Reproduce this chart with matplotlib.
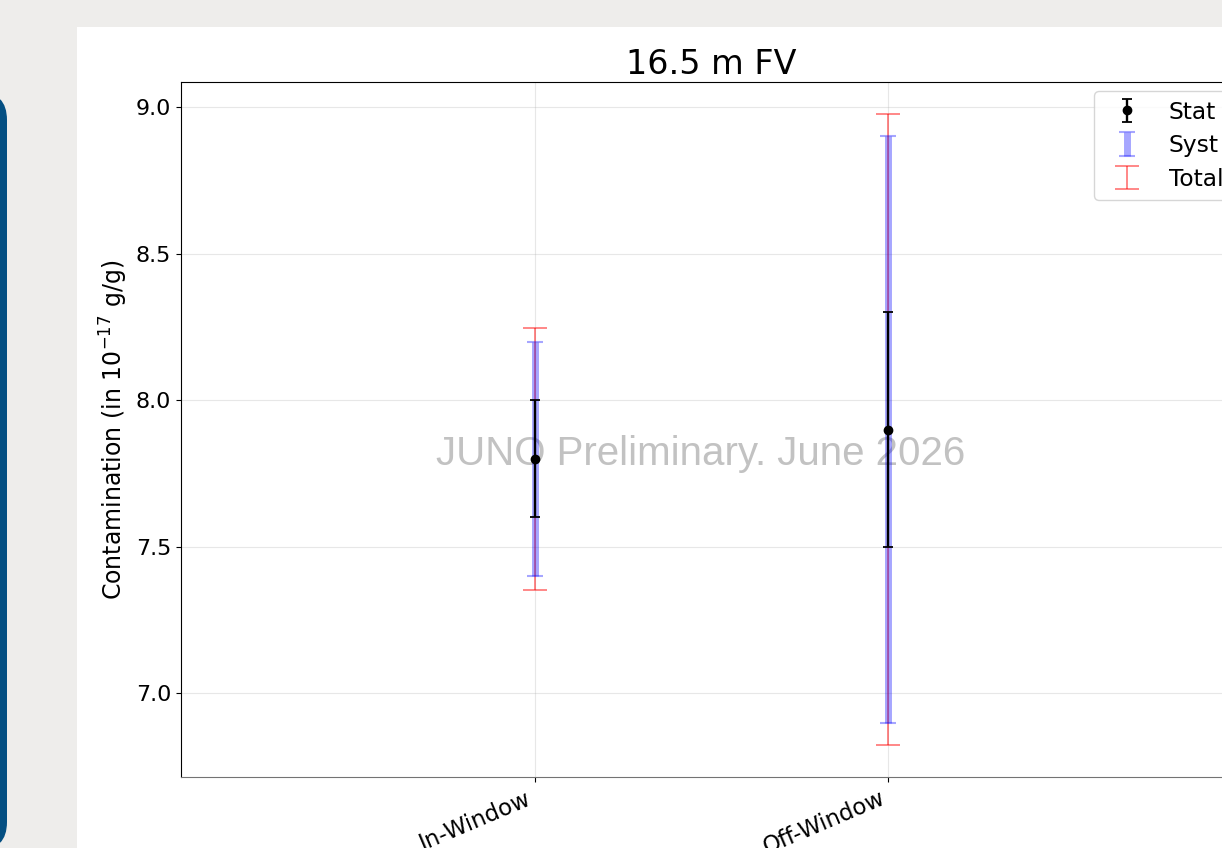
import matplotlib
matplotlib.use('Agg')
import matplotlib.pyplot as plt
from matplotlib.patches import Rectangle, FancyBboxPatch

# 数据
categories = ['In-Window', 'Off-Window']
central = [7.8, 7.9]
stat_err = [0.2, 0.4]
syst_err = [0.4, 1.0]
total_err = [(s ** 2 + y ** 2) ** 0.5 for s, y in zip(stat_err, syst_err)]

plt.rcParams['font.size'] = 16

fig = plt.figure(figsize=(12.22, 8.48), dpi=100, facecolor='#eeedeb')

# 背景：幻灯片底色、白色面板和左侧蓝条（像素坐标）
bg = fig.add_axes([0, 0, 1, 1], zorder=-10)
bg.set_xlim(0, 1222)
bg.set_ylim(848, 0)
bg.axis('off')
bg.add_patch(Rectangle((77, 27), 1200, 900, facecolor='white', edgecolor='none'))
bg.add_patch(FancyBboxPatch((-60, 92), 67, 758,
                            boxstyle='round,pad=0,rounding_size=28',
                            facecolor='#044f82', edgecolor='none'))

# 主图
ax = fig.add_axes([181 / 1222, 71 / 848, 1061 / 1222, 695 / 848])
x = list(range(len(categories)))

ax.errorbar(x, central, yerr=total_err, fmt='none', ecolor='red', alpha=0.55,
            elinewidth=1.2, capsize=8.6, capthick=1.2, zorder=2, label='Total')
ax.errorbar(x, central, yerr=syst_err, fmt='none', ecolor='blue', alpha=0.35,
            elinewidth=5, capsize=5.8, capthick=1.5, zorder=3, label='Syst')
ax.errorbar(x, central, yerr=stat_err, fmt='o', color='black', markersize=6,
            elinewidth=1.7, capsize=3.6, capthick=1.3, zorder=4, label='Stat')

ax.text(0.49, 0.465, 'JUNO Preliminary. June 2026', transform=ax.transAxes,
        ha='center', va='center', fontsize=29, color='0.76',
        family=['Liberation Sans', 'DejaVu Sans'], zorder=2.5)

ax.set_xlim(-1, 2)
ax.set_xticks(x)
ax.set_xticklabels(categories, rotation=23, ha='right', fontsize=16.5)
ax.set_ylabel(r'Contamination (in $10^{-17}$ g/g)', fontsize=17)
ax.set_title('16.5 m FV', fontsize=24)
ax.grid(True, alpha=0.3)
ax.spines['bottom'].set_color('0.45')

handles, labels = ax.get_legend_handles_labels()
order = [labels.index(n) for n in ['Stat', 'Syst', 'Total']]
ax.legend([handles[i] for i in order], [labels[i] for i in order],
          loc='upper right', fontsize=16.8, labelspacing=0.45, borderaxespad=0.4)

plt.savefig('out.png', dpi=100, facecolor=fig.get_facecolor())
